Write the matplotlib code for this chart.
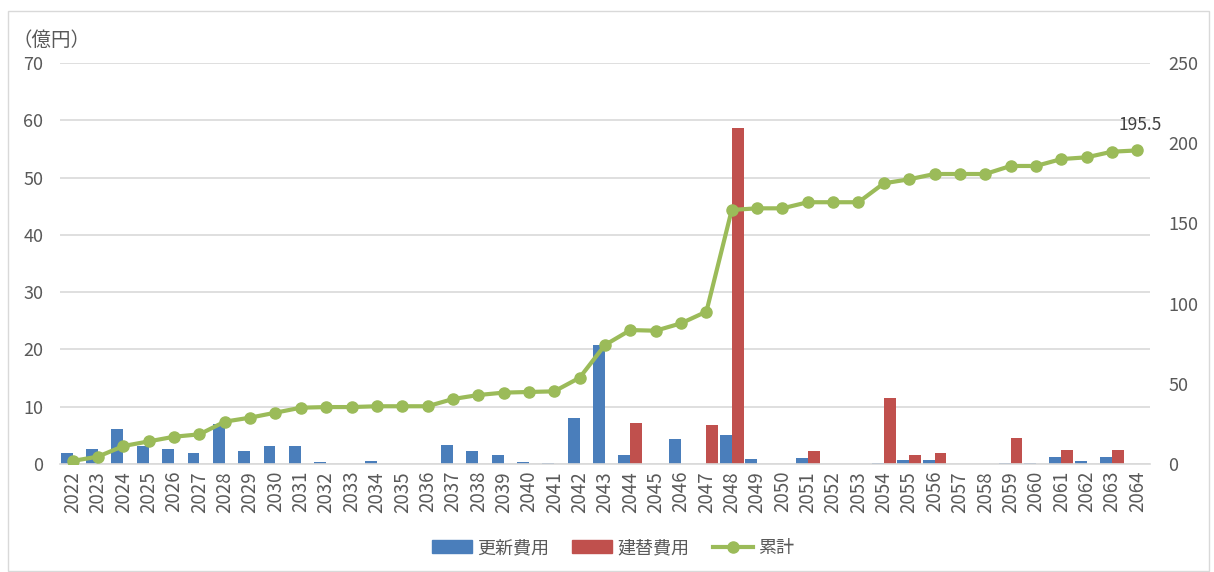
import matplotlib
matplotlib.use("Agg")
import matplotlib.pyplot as plt
import numpy as np
from matplotlib.patches import Rectangle
from matplotlib.lines import Line2D

plt.rcParams['font.family'] = ['Noto Sans CJK JP', 'DejaVu Sans']

years = list(range(2022, 2065))

# 更新費用 (億円)
renewal = [2.0, 2.6, 6.1, 3.1, 2.6, 2.0, 7.0, 2.3, 3.1, 3.2,
           0.35, 0.0, 0.6, 0.0, 0.0, 3.4, 2.3, 1.6, 0.35, 0.25,
           8.1, 20.7, 1.6, 0.0, 4.3, 0.0, 5.0, 0.9, 0.0, 1.1,
           0.0, 0.0, 0.2, 0.7, 0.7, 0.0, 0.0, 0.2, 0.2, 1.3,
           0.5, 1.3, 0.0]

# 建替費用 (億円)
rebuild = [0.0, 0.0, 0.0, 0.0, 0.0, 0.0, 0.0, 0.0, 0.0, 0.0,
           0.0, 0.0, 0.0, 0.0, 0.0, 0.0, 0.0, 0.0, 0.0, 0.0,
           0.0, 0.0, 7.15, 0.0, 0.0, 6.8, 58.6, 0.0, 0.0, 2.3,
           0.0, 0.0, 11.6, 1.6, 2.0, 0.0, 0.0, 4.5, 0.0, 2.5,
           0.0, 2.5, 0.0]

# 累計 (億円, right axis)
cumulative = [1.9, 4.6, 11.2, 14.1, 17.0, 18.5, 26.4, 28.9, 32.0, 35.1,
              35.5, 35.5, 36.0, 36.0, 36.0, 40.5, 43.0, 44.5, 44.9, 45.3,
              53.8, 74.2, 83.5, 83.1, 87.7, 95.0, 158.4, 159.4, 159.4, 163.2,
              163.2, 163.2, 175.0, 177.5, 180.8, 180.8, 180.8, 185.8, 185.8, 190.1,
              191.2, 194.7, 195.5]

blue = '#4A7EBB'
red = '#C0504D'
green = '#9BBB59'
grid_c = '#D9D9D9'
text_c = '#595959'

fig = plt.figure(figsize=(12.14, 5.72), dpi=100)
fig.patches.append(Rectangle((8 / 1214, 1 - 571 / 572), 1201 / 1214, 560 / 572,
                             transform=fig.transFigure, fill=False,
                             edgecolor='#D9D9D9', linewidth=1))

ax = fig.add_axes([60 / 1214, 1 - 464 / 572, 1090 / 1214, 401 / 572])
ax2 = ax.twinx()

x = np.arange(len(years))
w = 0.47
ax.bar(x - w / 2, renewal, width=w, color=blue, zorder=2)
ax.bar(x + w / 2, rebuild, width=w, color=red, zorder=2)

ax.set_ylim(0, 70)
ax.set_yticks(range(0, 71, 10))
ax.set_xlim(-0.5, len(years) - 0.5)
ax.set_xticks(x)
ax.set_xticklabels([str(y) for y in years], rotation=90)
ax.grid(axis='y', color=grid_c, linewidth=1.2, zorder=0)
ax.set_axisbelow(True)

ax2.plot(x, cumulative, color=green, linewidth=3, marker='o', markersize=8, zorder=3)
ax2.set_ylim(0, 250)
ax2.set_yticks(range(0, 251, 50))
ax2.annotate('195.5', (x[-1], cumulative[-1]), xytext=(2, 18), textcoords='offset points',
             ha='center', va='center', fontsize=12.5, color='#404040')

for a in (ax, ax2):
    for s in a.spines.values():
        s.set_visible(False)
    a.tick_params(length=0, labelsize=13, colors=text_c)
ax.tick_params(axis='x', pad=5, labelsize=13.5)
ax.tick_params(axis='y', pad=12)
ax2.tick_params(axis='y', pad=13)
ax.spines['bottom'].set_visible(True)
ax.spines['bottom'].set_color(grid_c)
ax.spines['bottom'].set_linewidth(1.2)

fig.text(12 / 1214, 1 - 40 / 572, '（億円）', fontsize=14, color=text_c,
         ha='left', va='center')

handles = [Rectangle((0, 0), 1, 1, color=blue),
           Rectangle((0, 0), 1, 1, color=red),
           Line2D([0], [0], color=green, linewidth=3, marker='o', markersize=8)]
fig.legend(handles, ['更新費用', '建替費用', '累計'], loc='center',
           bbox_to_anchor=(613 / 1214, 1 - 548 / 572), ncol=3, frameon=False,
           fontsize=13, labelcolor=text_c, handlelength=2.2, handleheight=0.7,
           columnspacing=1.3, handletextpad=0.3)

fig.savefig('out.png', dpi=100)
